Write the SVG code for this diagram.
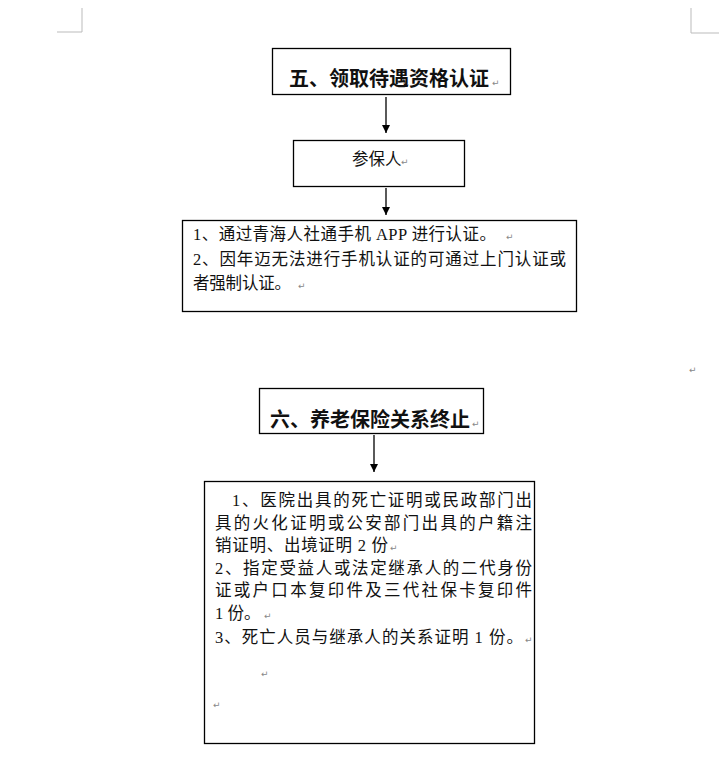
<svg xmlns="http://www.w3.org/2000/svg" width="724" height="776" viewBox="0 0 724 776">
<defs>
<style>
.box{fill:#fff;stroke:#000;stroke-width:1.3}
.t{font-family:"Liberation Serif","Noto Sans CJK SC",serif;fill:#111}
.title{font-size:20px;font-weight:bold}
.body{font-size:16.5px}
.pm{font-family:"DejaVu Sans",sans-serif;font-size:9px;fill:#888}
.crop{stroke:#bbb;stroke-width:1;fill:none}
.conn{stroke:#000;stroke-width:1.3;fill:none}
</style>
<marker id="ah" viewBox="0 0 10 10" refX="10" refY="5" markerWidth="8" markerHeight="8" markerUnits="userSpaceOnUse" orient="auto">
<path d="M0,0 L10,5 L0,10 z" fill="#000"/>
</marker>
</defs>
<rect width="724" height="776" fill="#fff"/>
<path class="crop" d="M82,8 V32 H57 M691,8 V33 H719"/>

<g id="node-title5">
<rect class="box" x="272.5" y="48.5" width="238" height="46"/>
<text class="t title" x="289" y="86">五、领取待遇资格认证</text>
<text class="pm" x="492" y="86">↵</text>
</g>

<g id="node-insured">
<rect class="box" x="293.5" y="140.5" width="171" height="46"/>
<text class="t body" x="352" y="165">参保人</text>
<text class="pm" x="401" y="165">↵</text>
</g>

<g id="node-auth">
<rect class="box" x="182.5" y="220.5" width="394" height="91"/>
<text class="t body" x="193" y="240" textLength="303" lengthAdjust="spacing">1、通过青海人社通手机 APP 进行认证。</text>
<text class="pm" x="506" y="240">↵</text>
<text class="t body" x="193" y="265" textLength="373" lengthAdjust="spacing">2、因年迈无法进行手机认证的可通过上门认证或</text>
<text class="t body" x="193" y="289" textLength="98" lengthAdjust="spacing">者强制认证。</text>
<text class="pm" x="298" y="289">↵</text>
</g>

<text class="pm" x="689" y="373">↵</text>

<g id="node-title6">
<rect class="box" x="259.5" y="388.5" width="224" height="45"/>
<text class="t title" x="270" y="427">六、养老保险关系终止</text>
<text class="pm" x="472" y="427">↵</text>
</g>

<g id="node-docs">
<rect class="box" x="204.5" y="481.5" width="330" height="262"/>
<text class="t body" x="232" y="506" textLength="300" lengthAdjust="spacing">1、医院出具的死亡证明或民政部门出</text>
<text class="t body" x="215" y="529" textLength="317" lengthAdjust="spacing">具的火化证明或公安部门出具的户籍注</text>
<text class="t body" x="215" y="551" textLength="173" lengthAdjust="spacing">销证明、出境证明 2 份</text>
<text class="pm" x="390" y="551">↵</text>
<text class="t body" x="215" y="574" textLength="317" lengthAdjust="spacing">2、指定受益人或法定继承人的二代身份</text>
<text class="t body" x="215" y="596" textLength="317" lengthAdjust="spacing">证或户口本复印件及三代社保卡复印件</text>
<text class="t body" x="215" y="619">1 份。</text>
<text class="pm" x="264" y="619">↵</text>
<text class="t body" x="215" y="643" textLength="308" lengthAdjust="spacing">3、死亡人员与继承人的关系证明 1 份。</text>
<text class="pm" x="525" y="643">↵</text>
<text class="pm" x="261" y="677">↵</text>
<text class="pm" x="213" y="708">↵</text>
</g>

<g id="connectors">
<line class="conn" x1="386" y1="97" x2="386" y2="133" marker-end="url(#ah)"/>
<line class="conn" x1="386" y1="188" x2="386" y2="215" marker-end="url(#ah)"/>
<line class="conn" x1="374" y1="435" x2="374" y2="472" marker-end="url(#ah)"/>
</g>
</svg>
